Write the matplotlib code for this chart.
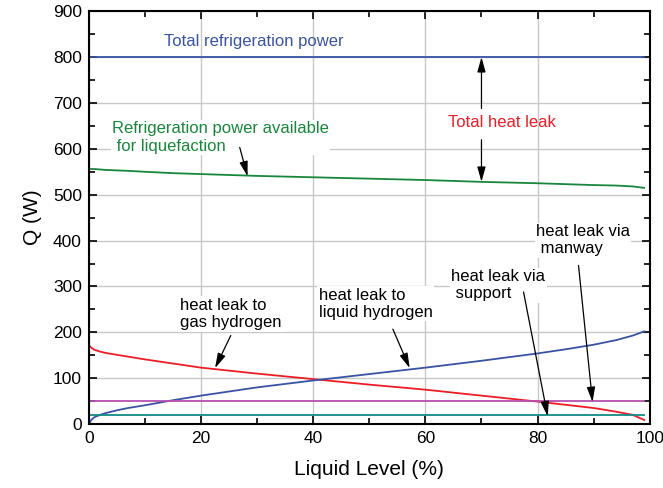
import matplotlib.pyplot as plt
from matplotlib.ticker import MultipleLocator

plt.rcParams['font.family'] = ['Liberation Sans', 'DejaVu Sans']

# 数据：液位 (%) 与各项热量 (W)
level = [0, 0.5, 1, 2, 3, 5, 7, 10, 15, 20, 30, 40, 50, 60, 70, 80, 85, 90, 94, 97, 99]
q_gas = [172, 166, 162, 158, 155, 151, 147, 141, 132, 123, 110, 98, 86, 75, 62, 49, 42, 35, 27, 20, 9]
q_liquid = [0, 10, 15, 20, 24, 30, 35, 41, 52, 62, 80, 95, 109, 123, 138, 154, 163, 173, 183, 193, 202]
q_available = [557, 556, 556, 555, 554, 553, 552, 550, 547, 545, 541, 538, 535, 532, 528, 525, 523, 521, 520, 518, 515]
level_flat = [0, 99]
q_total = [800, 800]
q_manway = [50, 50]
q_support = [20, 20]

fig = plt.figure(figsize=(6.63, 4.88), dpi=100)
ax = fig.add_axes([0.134, 0.131, 0.846, 0.846])

ax.plot(level_flat, q_total, color='#3953a4', lw=1.3)
ax.plot(level, q_available, color='#17873c', lw=1.3)
ax.plot(level, q_gas, color='#ee1c24', lw=1.3)
ax.plot(level, q_liquid, color='#3953a4', lw=1.3)
ax.plot(level_flat, q_manway, color='#b84fb0', lw=1.3)
ax.plot(level_flat, q_support, color='#138a85', lw=1.3)

ax.set_xlim(0, 100)
ax.set_ylim(0, 900)
ax.xaxis.set_major_locator(MultipleLocator(20))
ax.xaxis.set_minor_locator(MultipleLocator(10))
ax.yaxis.set_major_locator(MultipleLocator(100))
ax.yaxis.set_minor_locator(MultipleLocator(50))
ax.grid(True, which='major', color='#c8c8c8', lw=1)
ax.set_axisbelow(True)
ax.tick_params(which='both', direction='in', top=True, right=True, width=1.2)
ax.tick_params(which='major', length=6, labelsize=12.5, pad=5)
ax.tick_params(which='minor', length=4)
for s in ax.spines.values():
    s.set_linewidth(1.5)
ax.set_xlabel('Liquid Level (%)', fontsize=15, labelpad=10)
ax.set_ylabel('Q (W)', fontsize=15, labelpad=8)

fs = 12
arrow = dict(arrowstyle='-|>,head_length=0.9,head_width=0.25', color='black', lw=0.9,
             mutation_scale=10, shrinkA=0, shrinkB=0)

ax.text(29.5, 833, 'Total refrigeration power', color='#3953a4', fontsize=fs, ha='center', va='center')
ax.text(4.1, 625, 'Refrigeration power available\n for liquefaction', color='#17873c',
        fontsize=fs, ha='left', va='center', linespacing=1.2,
        bbox=dict(facecolor='white', edgecolor='none', pad=1))
ax.annotate('', xy=(28.3, 540), xytext=(26.9, 603), arrowprops=arrow)

ax.text(73.6, 658, 'Total heat leak', color='#ee1c24', fontsize=fs, ha='center', va='center')
ax.annotate('', xy=(70, 800), xytext=(70, 688), arrowprops=arrow)
ax.annotate('', xy=(70, 528), xytext=(70, 620), arrowprops=arrow)

ax.text(16.2, 240, 'heat leak to\ngas hydrogen', fontsize=fs, ha='left', va='center', linespacing=1.2,
        bbox=dict(facecolor='white', edgecolor='none', pad=1))
ax.annotate('', xy=(22.5, 122), xytext=(25.3, 193), arrowprops=arrow)

ax.text(41, 262, 'heat leak to\nliquid hydrogen', fontsize=fs, ha='left', va='center', linespacing=1.2,
        bbox=dict(facecolor='white', edgecolor='none', pad=1))
ax.annotate('', xy=(57.2, 122), xytext=(54.2, 207), arrowprops=arrow)

ax.text(64.6, 303, 'heat leak via\n support', fontsize=fs, ha='left', va='center', linespacing=1.2,
        bbox=dict(facecolor='white', edgecolor='none', pad=1))
ax.annotate('', xy=(81.8, 17), xytext=(77.5, 288), arrowprops=arrow)

ax.text(79.7, 401, 'heat leak via\n manway', fontsize=fs, ha='left', va='center', linespacing=1.2,
        bbox=dict(facecolor='white', edgecolor='none', pad=1))
ax.annotate('', xy=(89.8, 48), xytext=(87.3, 346), arrowprops=arrow)

fig.savefig('out.png', dpi=100)
